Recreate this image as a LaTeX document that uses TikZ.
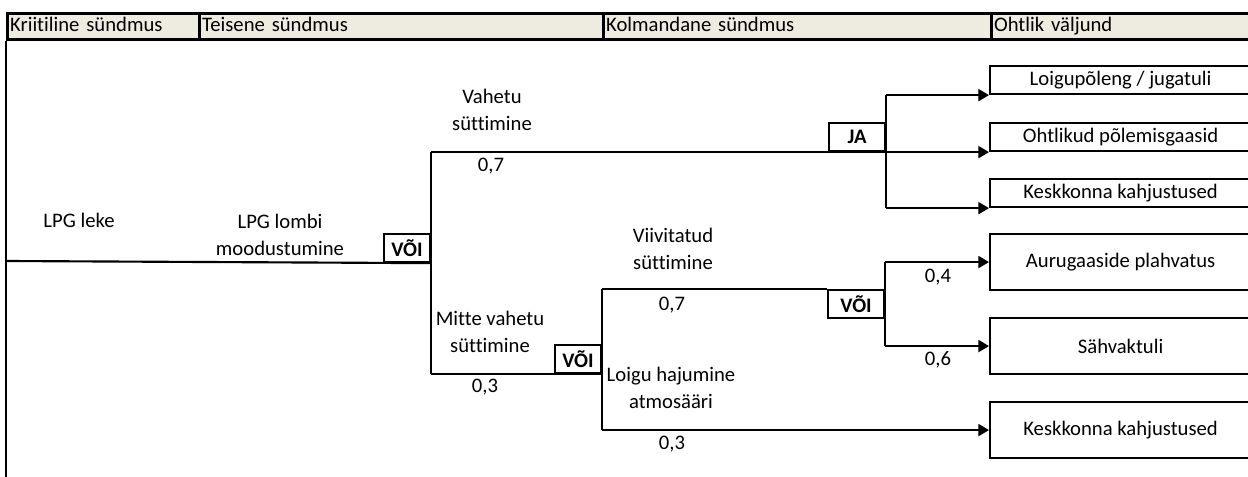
\documentclass[tikz,border=0pt]{standalone}
\usepackage{fontspec}
\setmainfont{Carlito}[Ligatures=NoCommon]
\usetikzlibrary{arrows.meta}
\definecolor{hdr}{RGB}{238,236,225}
\begin{document}
\begin{tikzpicture}[x=0.75pt,y=-0.75pt,
  every node/.style={font=\fontsize{15.5}{20}\selectfont},
  hcell/.style={draw, fill=hdr, line width=2.2pt, minimum height=19.5pt,
    text height=11pt, text depth=3.5pt,
    inner xsep=2pt, inner ysep=0pt, align=left, anchor=north west},
  outbox/.style={draw, line width=1.6pt, minimum width=195.75pt, inner sep=0pt,
    anchor=north west},
  gate/.style={draw, line width=1.6pt, inner sep=0pt, anchor=north west,
    font=\fontsize{15.5}{20}\selectfont\bfseries, minimum height=21pt},
  lbl/.style={align=center, inner sep=0pt},
  wire/.style={line width=1.6pt},
  arrowwire/.style={line width=1.6pt, -{Triangle[length=8pt,width=9pt]}},
  framewire/.style={line width=2.2pt}]
\useasboundingbox (0,0) rectangle (1248,477);

% header row
\node[hcell, text width=140pt] (h1) at (6,12) {Kriitiline sündmus};
\node[hcell, text width=299pt] (h2) at (198,12) {Teisene sündmus};
\node[hcell, text width=287pt] (h3) at (602,12) {Kolmandane sündmus};
\node[hcell, text width=192.5pt] (h4) at (990,12) {Ohtlik väljund};
\coordinate (fbot) at (6,477);
\draw[framewire] (h1.south west) -- (fbot);

% outcome boxes
\node[outbox, minimum height=21pt] (o1) at (989,65) {Loigupõleng / jugatuli};
\node[outbox, minimum height=21pt] (o2) at (989,122) {Ohtlikud põlemisgaasid};
\node[outbox, minimum height=21pt] (o3) at (989,178) {Keskkonna kahjustused};
\node[outbox, minimum height=42pt] (o4) at (989,233) {Aurugaaside plahvatus};
\node[outbox, minimum height=42pt] (o5) at (989,317) {Sähvaktuli};
\node[outbox, minimum height=42pt] (o6) at (989,401) {Keskkonna kahjustused};

% gates
\node[gate, minimum width=34.5pt] (g1) at (383,233) {VÕI};
\node[gate, minimum width=42pt] (ja) at (828,122) {JA};
\node[gate, minimum width=34.5pt] (g2) at (554,344) {VÕI};
\node[gate, minimum width=42pt] (g3) at (827,289) {VÕI};

% event labels
\node[lbl] (e1) at (79,220) {LPG leke};
\node[lbl] (e2) at (280,235) {LPG lombi\\moodustumine};
\node[lbl] (e3) at (492,110) {Vahetu\\süttimine};
\node[lbl] (p1) at (491,166) {0,7};
\node[lbl] (e4) at (490,332) {Mitte vahetu\\süttimine};
\node[lbl] (p2) at (485,387) {0,3};
\node[lbl] (e5) at (673,249) {Viivitatud\\süttimine};
\node[lbl] (p3) at (672,305) {0,7};
\node[lbl] (e6) at (671,388) {Loigu hajumine\\atmosääri};
\node[lbl] (p4) at (672,444) {0,3};
\node[lbl] (p5) at (938,277) {0,4};
\node[lbl] (p6) at (938,360) {0,6};

% main line into the first gate
\coordinate (root) at (6,261);
\draw[wire] (root) -- (g1.south east);

% first split
\draw[wire] (g1.south east |- ja.south) -- (g1.south east |- g2.south);
\draw[wire] (g1.south east |- ja.south) -- (ja.south east);
\draw[wire] (g1.south east |- g2.south) -- (g2.south east);

% JA fan-out
\draw[wire] (ja.south east |- o1.south) -- (ja.south east |- o3.south);
\draw[arrowwire] (ja.south east |- o1.south) -- (o1.south west);
\draw[arrowwire] (ja.south east) -- (o2.south west);
\draw[arrowwire] (ja.south east |- o3.south) -- (o3.south west);

% second split
\draw[wire] (g2.south east |- g3.north) -- (g2.south east |- o6.west);
\draw[wire] (g2.south east |- g3.north) -- (g3.north west);
\draw[arrowwire] (g2.south east |- o6.west) -- (o6.west);

% third split
\draw[wire] (g3.north east |- o4.west) -- (g3.north east |- o5.west);
\draw[arrowwire] (g3.north east |- o4.west) -- (o4.west);
\draw[arrowwire] (g3.north east |- o5.west) -- (o5.west);
\end{tikzpicture}
\end{document}
